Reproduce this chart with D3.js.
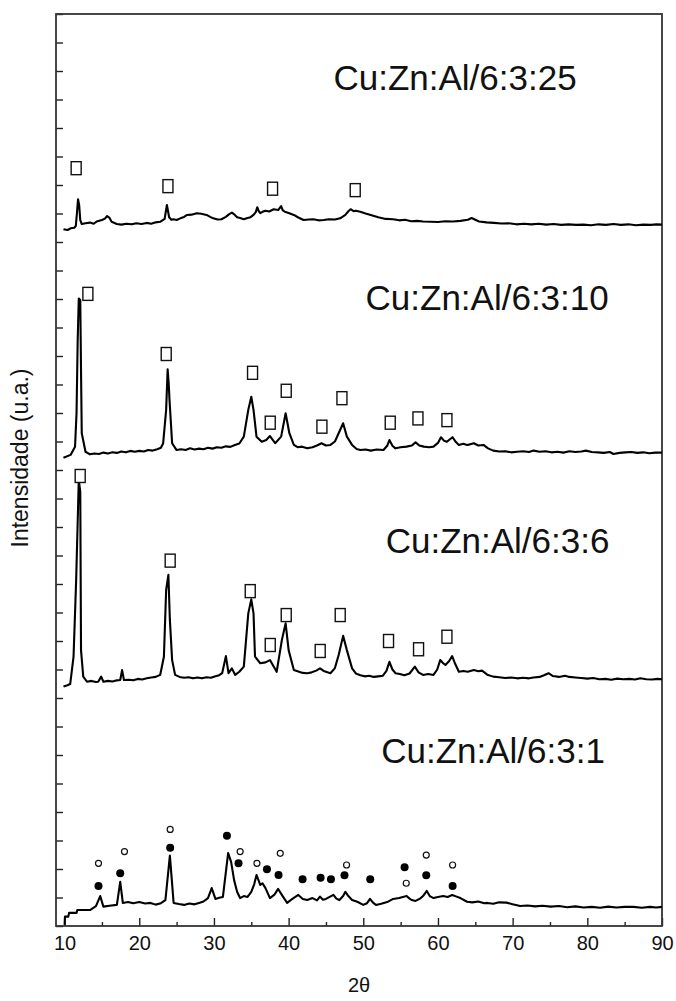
<!DOCTYPE html>
<html>
<head>
<meta charset="utf-8">
<script src="https://cdn.jsdelivr.net/npm/d3@7"></script>
<style>
  html, body { margin: 0; padding: 0; background: #fff; }
  svg { display: block; }
  text { font-family: "Liberation Sans", Arial, sans-serif; fill: #111; }
</style>
</head>
<body>
<svg id="chart" width="676" height="1001"></svg>
<script>
// XRD patterns of Cu:Zn:Al precursors, stacked with vertical offsets.
// Each pattern: [2θ (degrees), intensity (a.u., offset included)]

const seriesLabels = ["Cu:Zn:Al/6:3:25", "Cu:Zn:Al/6:3:10", "Cu:Zn:Al/6:3:6", "Cu:Zn:Al/6:3:1"];

const xTickLabels = [10, 20, 30, 40, 50, 60, 70, 80, 90];

const pattern25 = [
  [9.85, 24.45], [10.4, 24.42], [10.8, 24.48], [11.3, 24.50], [11.5, 24.56], [11.65, 25.0], [11.8, 25.50],
  [11.95, 25.3], [12.1, 24.77], [12.3, 24.63], [12.8, 24.66], [13.4, 24.68], [13.9, 24.64], [14.3, 24.72],
  [15.0, 24.77], [15.4, 24.82], [15.7, 24.91], [16.0, 24.85], [16.3, 24.71], [17.0, 24.63], [17.6, 24.61],
  [18.3, 24.64], [19.0, 24.62], [19.6, 24.66], [20.3, 24.63], [21.0, 24.67], [21.6, 24.64], [22.2, 24.69],
  [22.8, 24.71], [23.4, 24.81], [23.7, 25.30], [24.0, 24.87], [24.3, 24.78], [24.6, 24.80], [25.0, 24.77],
  [25.5, 24.83], [26.0, 24.88], [26.4, 24.95], [27.0, 24.96], [27.7, 25.01], [28.3, 24.99], [29.0, 24.95],
  [29.5, 24.88], [29.9, 24.83], [30.5, 24.79], [31.0, 24.80], [31.6, 24.88], [32.0, 24.97], [32.4, 25.03],
  [32.8, 24.95], [33.1, 24.87], [33.5, 24.84], [34.0, 24.80], [34.5, 24.84], [34.9, 24.87], [35.3, 24.95],
  [35.6, 25.05], [35.8, 25.22], [36.0, 25.08], [36.2, 25.01], [36.5, 25.06], [36.9, 25.10], [37.4, 25.07],
  [38.0, 25.15], [38.6, 25.12], [39.0, 25.26], [39.2, 25.12], [39.5, 25.06], [40.0, 25.02], [40.7, 24.95],
  [41.3, 24.86], [42.0, 24.77], [42.7, 24.79], [43.3, 24.80], [44.0, 24.76], [44.7, 24.77], [45.4, 24.80],
  [46.2, 24.79], [46.9, 24.83], [47.6, 24.95], [48.0, 25.08], [48.3, 25.15], [48.7, 25.08], [49.0, 25.10],
  [49.6, 25.06], [50.3, 25.00], [51.0, 24.95], [52.0, 24.87], [53.0, 24.81], [54.0, 24.80], [54.8, 24.76],
  [55.6, 24.78], [56.4, 24.73], [57.2, 24.74], [58.0, 24.72], [59.0, 24.71], [60.0, 24.70], [61.0, 24.73],
  [62.0, 24.72], [63.0, 24.74], [64.0, 24.78], [64.5, 24.84], [65.0, 24.78], [65.5, 24.72], [66.5, 24.69],
  [67.5, 24.67], [68.5, 24.65], [69.5, 24.66], [70.5, 24.62], [71.5, 24.64], [72.5, 24.62], [73.5, 24.64],
  [74.5, 24.61], [75.5, 24.63], [76.5, 24.60], [77.5, 24.62], [78.5, 24.60], [79.5, 24.61], [80.5, 24.59],
  [81.5, 24.62], [82.5, 24.60], [83.5, 24.63], [84.5, 24.60], [85.5, 24.62], [86.5, 24.59], [87.5, 24.61],
  [88.5, 24.60], [89.3, 24.62], [90.0, 24.61]
];

const pattern10 = [
  [9.85, 16.43], [10.8, 16.53], [11.4, 16.82], [11.6, 17.99], [11.75, 20.5], [11.9, 22.02], [12.1, 21.96],
  [12.2, 19.5], [12.3, 17.29], [12.8, 16.64], [13.4, 16.55], [14.0, 16.58], [14.6, 16.56], [15.2, 16.61],
  [15.8, 16.58], [16.4, 16.62], [17.0, 16.60], [17.6, 16.65], [18.2, 16.62], [18.8, 16.67], [19.4, 16.64],
  [20.0, 16.67], [20.6, 16.65], [21.2, 16.70], [21.8, 16.68], [22.4, 16.73], [22.9, 16.78], [23.2, 16.94],
  [23.6, 18.11], [23.8, 19.53], [23.95, 19.0], [24.05, 18.46], [24.4, 16.94], [25.0, 16.70], [25.6, 16.73],
  [26.2, 16.70], [26.8, 16.76], [27.4, 16.72], [28.0, 16.75], [28.6, 16.73], [29.2, 16.78], [29.8, 16.75],
  [30.4, 16.80], [31.0, 16.78], [31.6, 16.83], [32.2, 16.81], [32.8, 16.88], [33.4, 16.93], [34.0, 17.17],
  [34.6, 18.11], [35.0, 18.57], [35.3, 18.11], [35.7, 17.17], [36.4, 16.99], [37.0, 17.05], [37.5, 17.19],
  [38.2, 16.94], [39.0, 17.17], [39.6, 17.99], [40.1, 17.29], [40.7, 16.88], [41.2, 16.80], [41.8, 16.82],
  [42.5, 16.76], [43.2, 16.80], [43.8, 16.86], [44.4, 16.94], [45.0, 16.86], [45.6, 16.88], [46.2, 17.00],
  [46.7, 17.29], [47.3, 17.64], [47.8, 17.17], [48.5, 16.88], [49.1, 16.74], [49.6, 16.70], [50.3, 16.72],
  [51.0, 16.68], [51.8, 16.72], [52.7, 16.70], [53.2, 16.85], [53.5, 17.05], [53.9, 16.85], [54.3, 16.76],
  [55.0, 16.80], [55.8, 16.82], [56.5, 16.86], [57.0, 16.97], [57.5, 16.86], [58.1, 16.82], [58.8, 16.80],
  [59.4, 16.82], [60.0, 16.95], [60.4, 17.15], [60.8, 17.03], [61.2, 16.99], [61.6, 17.08], [61.95, 17.15],
  [62.4, 16.98], [62.8, 16.88], [63.4, 16.92], [63.9, 16.88], [64.3, 16.90], [64.8, 16.94], [65.4, 16.86],
  [66.1, 16.88], [66.7, 16.76], [67.4, 16.68], [68.2, 16.65], [69.0, 16.66], [69.8, 16.62], [70.6, 16.64],
  [71.4, 16.66], [72.2, 16.63], [72.8, 16.68], [73.6, 16.64], [74.4, 16.66], [75.2, 16.62], [76.0, 16.64],
  [76.8, 16.61], [77.6, 16.66], [78.4, 16.63], [79.2, 16.65], [79.8, 16.68], [80.6, 16.63], [81.4, 16.62],
  [82.2, 16.60], [83.0, 16.63], [83.5, 16.56], [84.3, 16.60], [85.1, 16.62], [85.9, 16.63], [86.7, 16.60],
  [87.5, 16.62], [88.3, 16.59], [89.1, 16.61], [90.0, 16.61]
];

const pattern6 = [
  [9.85, 8.40], [10.3, 8.44], [10.75, 8.49], [11.2, 9.45], [11.55, 12.14], [11.9, 15.65], [12.1, 15.24],
  [12.2, 9.68], [12.5, 8.75], [13.0, 8.57], [13.6, 8.60], [14.2, 8.56], [14.5, 8.57], [14.9, 8.75],
  [15.2, 8.57], [15.8, 8.60], [16.4, 8.58], [17.0, 8.62], [17.45, 8.63], [17.7, 8.98], [17.95, 8.63],
  [18.6, 8.64], [19.2, 8.62], [19.8, 8.67], [20.4, 8.65], [21.0, 8.69], [21.6, 8.72], [22.2, 8.74],
  [22.8, 8.81], [23.3, 9.45], [23.6, 11.79], [23.9, 12.32], [24.1, 10.74], [24.4, 9.33], [24.8, 8.81],
  [25.4, 8.74], [26.0, 8.71], [26.6, 8.73], [27.2, 8.69], [27.8, 8.72], [28.4, 8.69], [29.0, 8.73],
  [29.6, 8.71], [30.2, 8.76], [30.7, 8.80], [31.1, 8.87], [31.6, 9.47], [31.95, 8.87], [32.4, 9.04],
  [32.85, 8.81], [33.4, 8.92], [34.0, 9.10], [34.6, 10.97], [35.0, 11.46], [35.3, 10.97], [35.5, 9.45],
  [36.2, 9.22], [36.9, 9.25], [37.5, 9.33], [38.4, 8.92], [39.1, 10.04], [39.6, 10.62], [40.0, 9.68],
  [40.7, 8.98], [41.3, 8.93], [41.9, 8.88], [42.5, 8.87], [43.1, 8.90], [43.7, 8.96], [44.2, 9.04],
  [44.7, 8.95], [45.2, 8.90], [45.6, 8.87], [46.2, 9.05], [46.7, 9.51], [47.3, 10.18], [47.8, 9.68],
  [48.5, 9.04], [49.0, 8.86], [49.6, 8.80], [50.2, 8.76], [50.8, 8.78], [51.4, 8.74], [52.0, 8.76],
  [52.6, 8.78], [53.1, 8.95], [53.5, 9.27], [53.9, 9.00], [54.3, 8.87], [54.9, 8.84], [55.5, 8.80],
  [56.2, 8.86], [56.9, 9.10], [57.4, 8.90], [58.0, 8.81], [58.7, 8.84], [59.4, 8.81], [59.9, 9.00],
  [60.3, 9.33], [60.7, 9.22], [61.0, 9.16], [61.5, 9.30], [61.9, 9.47], [62.3, 9.20], [62.8, 8.92],
  [63.4, 8.95], [64.0, 8.92], [64.8, 8.98], [65.4, 8.94], [65.9, 8.96], [66.6, 8.82], [67.4, 8.75],
  [68.2, 8.73], [69.0, 8.70], [69.8, 8.72], [70.6, 8.69], [71.4, 8.71], [72.2, 8.69], [72.8, 8.72],
  [73.6, 8.74], [74.2, 8.80], [74.8, 8.87], [75.4, 8.77], [76.2, 8.74], [77.0, 8.78], [77.6, 8.74],
  [78.4, 8.72], [79.2, 8.70], [80.0, 8.68], [80.8, 8.70], [81.6, 8.66], [82.4, 8.67], [83.2, 8.64],
  [84.0, 8.68], [84.8, 8.66], [85.6, 8.67], [86.4, 8.65], [87.1, 8.69], [87.9, 8.66], [88.7, 8.65],
  [89.4, 8.67], [90.0, 8.66]
];

const pattern1 = [
  [10.0, 0.04], [10.05, 0.33], [10.5, 0.33], [10.6, 0.46], [11.6, 0.46], [11.7, 0.56], [13.4, 0.56],
  [14.2, 0.70], [14.77, 1.05], [15.2, 0.68], [16.0, 0.71], [17.0, 0.74], [17.45, 1.55], [17.8, 0.81],
  [18.5, 0.84], [19.2, 0.80], [20.0, 0.84], [20.8, 0.79], [21.5, 0.81], [22.2, 0.75], [22.9, 0.80],
  [23.5, 0.91], [24.1, 2.47], [24.6, 0.81], [25.3, 0.77], [26.0, 0.74], [26.7, 0.79], [27.4, 0.76],
  [28.0, 0.81], [28.6, 0.86], [29.2, 0.98], [29.7, 1.33], [30.2, 0.95], [30.7, 0.99], [31.2, 1.02],
  [31.9, 2.56], [32.3, 2.25], [32.7, 1.61], [33.1, 1.20], [33.5, 0.98], [34.0, 1.05], [34.5, 1.02],
  [35.0, 1.20], [35.4, 1.47], [35.7, 1.79], [36.2, 1.44], [36.5, 1.50], [36.9, 1.33], [37.5, 0.98],
  [38.1, 1.10], [38.6, 1.30], [39.2, 1.05], [39.8, 0.81], [40.5, 0.95], [41.3, 1.09], [41.9, 0.95],
  [42.5, 0.91], [43.2, 0.98], [43.8, 0.90], [44.2, 1.03], [44.6, 0.92], [45.0, 0.95], [45.5, 1.02],
  [46.0, 1.09], [46.4, 0.96], [46.8, 0.91], [47.3, 1.05], [47.6, 1.20], [48.0, 1.05], [48.5, 0.91],
  [49.2, 0.85], [50.0, 0.74], [50.5, 0.80], [50.9, 0.95], [51.3, 0.82], [51.7, 0.74], [52.4, 0.78],
  [53.2, 0.84], [54.0, 0.95], [54.8, 0.98], [55.3, 1.02], [55.8, 1.05], [56.2, 0.96], [56.5, 0.91],
  [57.0, 0.88], [57.6, 0.96], [58.0, 1.05], [58.5, 1.23], [58.9, 1.05], [59.4, 0.98], [60.0, 1.02],
  [60.7, 1.05], [61.3, 1.02], [61.9, 1.09], [62.4, 1.04], [63.0, 0.98], [63.9, 0.85], [64.6, 0.83],
  [65.4, 0.86], [66.2, 0.80], [66.6, 0.81], [67.4, 0.78], [68.2, 0.83], [69.2, 0.82], [70.0, 0.76],
  [71.0, 0.70], [72.0, 0.72], [73.0, 0.69], [74.0, 0.71], [75.1, 0.68], [76.2, 0.70], [77.3, 0.66],
  [78.4, 0.69], [79.5, 0.65], [80.6, 0.67], [81.7, 0.64], [82.8, 0.68], [83.9, 0.65], [85.0, 0.67],
  [86.2, 0.67], [87.3, 0.64], [88.4, 0.67], [89.2, 0.65], [90.0, 0.67]
];

// Reflection markers: [2θ, height (a.u.)]
const squares25 = [[11.55, 26.59], [23.84, 25.96], [37.85, 25.87], [48.92, 25.82]];
const squares10 = [[13.12, 22.18], [23.61, 20.07], [35.17, 19.41], [39.68, 18.78], [37.54, 17.66],
                   [47.14, 18.52], [44.46, 17.52], [53.61, 17.66], [57.32, 17.81], [61.2, 17.75]];
const squares6  = [[12.09, 15.79], [24.14, 12.82], [34.86, 11.75], [37.54, 9.86], [39.68, 10.91],
                   [44.23, 9.65], [46.91, 10.91], [53.38, 10.0], [57.4, 9.71], [61.2, 10.15]];
const filledDots1 = [[14.54, 1.40], [17.45, 1.85], [24.14, 2.75], [31.74, 3.17], [33.29, 2.20], [37.10, 1.99],
                     [38.65, 1.79], [41.87, 1.64], [44.28, 1.69], [45.67, 1.64], [47.48, 1.78], [50.93, 1.64],
                     [55.53, 2.06], [58.43, 1.78], [61.96, 1.40]];
const openDots1 = [[14.54, 2.20], [18.02, 2.61], [24.14, 3.39], [33.51, 2.61], [35.76, 2.20], [38.88, 2.55],
                   [47.76, 2.14], [55.75, 1.50], [58.43, 2.49], [61.96, 2.14]];

const patterns = [pattern25, pattern10, pattern6, pattern1];

// ---- layout ----
const plotLeft = 56, plotRight = 662, plotTop = 14, plotBottom = 926;
const svg = d3.select("#chart");

const x = d3.scaleLinear().domain([8.85, 90]).range([plotLeft, plotRight]);
const y = d3.scaleLinear().domain([0, 32]).range([plotBottom, plotTop]);

// axes: bottom with major/minor inward ticks, left with inward ticks only
const xMajor = d3.axisBottom(x).tickValues(xTickLabels).tickFormat(d3.format("d"))
  .tickSizeInner(-8).tickSizeOuter(0).tickPadding(10);
const xMinor = d3.axisBottom(x).tickValues(d3.range(15, 90, 10)).tickFormat("")
  .tickSizeInner(-4).tickSizeOuter(0);
const yAxis = d3.axisLeft(y).tickValues(d3.range(0, 33, 1)).tickFormat("")
  .tickSizeInner(-7).tickSizeOuter(0);

const gx = svg.append("g").attr("transform", `translate(0,${plotBottom})`).call(xMajor);
svg.append("g").attr("transform", `translate(0,${plotBottom})`).call(xMinor);
svg.append("g").attr("transform", `translate(${plotLeft},0)`).call(yAxis);

svg.selectAll(".domain").remove();
svg.selectAll(".tick line").attr("stroke", "#222").attr("stroke-width", 1.4);
gx.selectAll("text").attr("font-size", 20).attr("fill", "#111")
  .style("font-family", "'Liberation Sans', Arial, sans-serif");

// frame
svg.append("rect")
  .attr("x", plotLeft).attr("y", plotTop)
  .attr("width", plotRight - plotLeft).attr("height", plotBottom - plotTop)
  .attr("fill", "none").attr("stroke", "#333").attr("stroke-width", 1.8);

// patterns
const line = d3.line().x(d => x(d[0])).y(d => y(d[1]));
svg.append("g").selectAll("path").data(patterns).join("path")
  .attr("d", line)
  .attr("fill", "none")
  .attr("stroke", "#000")
  .attr("stroke-width", 2.1)
  .attr("stroke-linejoin", "round");

// square reflection markers
const sqW = 10, sqH = 13;
svg.append("g").selectAll("rect")
  .data([...squares25, ...squares10, ...squares6]).join("rect")
  .attr("x", d => x(d[0]) - sqW / 2)
  .attr("y", d => y(d[1]) - sqH / 2)
  .attr("width", sqW).attr("height", sqH)
  .attr("fill", "#fff").attr("stroke", "#111").attr("stroke-width", 1.4);

// filled and open circle markers
svg.append("g").selectAll("circle")
  .data(filledDots1).join("circle")
  .attr("cx", d => x(d[0])).attr("cy", d => y(d[1]))
  .attr("r", 4).attr("fill", "#000");
svg.append("g").selectAll("circle")
  .data(openDots1).join("circle")
  .attr("cx", d => x(d[0])).attr("cy", d => y(d[1]))
  .attr("r", 3).attr("fill", "#fff").attr("stroke", "#111").attr("stroke-width", 1.2);

// sample labels, anchored in data space
const labelAnchors = [[46.0, 29.33], [50.3, 21.63], [53.0, 13.09], [52.4, 5.72]];
svg.append("g").selectAll("text")
  .data(seriesLabels).join("text")
  .attr("x", (d, i) => x(labelAnchors[i][0]))
  .attr("y", (d, i) => y(labelAnchors[i][1]))
  .attr("font-size", 35)
  .text(d => d);

// axis titles
svg.append("text")
  .attr("x", (plotLeft + plotRight) / 2).attr("y", 992)
  .attr("text-anchor", "middle").attr("font-size", 20)
  .text("2θ");
svg.append("text")
  .attr("transform", `translate(28,${(plotTop + plotBottom) / 2 - 12}) rotate(-90)`)
  .attr("text-anchor", "middle").attr("font-size", 23)
  .text("Intensidade (u.a.)");
</script>
</body>
</html>
